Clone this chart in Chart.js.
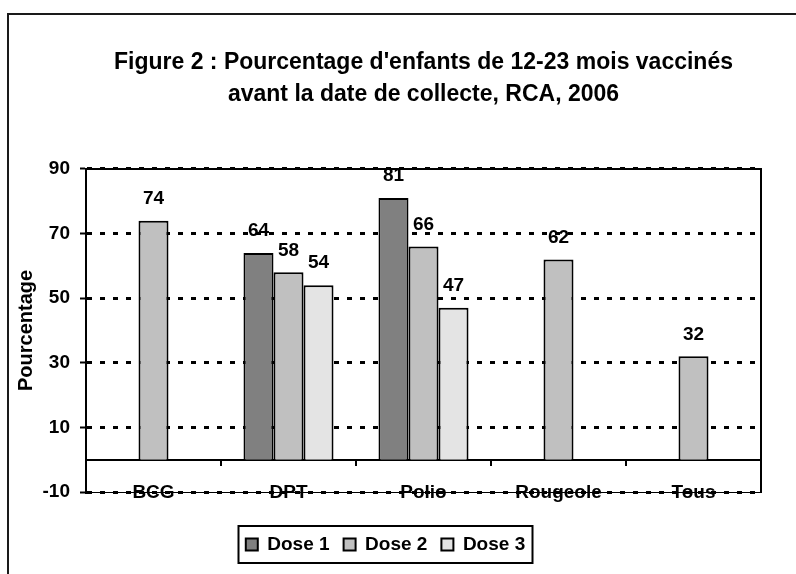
<!DOCTYPE html>
<html lang="fr">
<head>
    <meta charset="UTF-8">
    <title>Figure 2 : Pourcentage d'enfants vaccinés</title>
    <script src="https://cdn.jsdelivr.net/npm/chart.js"></script>
    <style>
        html, body {
            margin: 0;
            padding: 0;
            background: #fff;
            overflow: hidden;
        }
        #chart-container {
            width: 796px;
            height: 574px;
        }
    </style>
</head>
<body>
    <div id="chart-container">
        <canvas id="vaccChart" width="796" height="574"></canvas>
    </div>
    <script>
        const categories = ['BCG', 'DPT', 'Polio', 'Rougeole', 'Tous'];
        const dose1 = [null, 64, 81, null, null];
        const dose2 = [74, 58, 66, 62, 32];
        const dose3 = [null, 54, 47, null, null];
        const yTicks = [-10, 10, 30, 50, 70, 90];
        const seriesNames = ['Dose 1', 'Dose 2', 'Dose 3'];
        const seriesColors = ['#808080', '#c0c0c0', '#e4e4e4'];

        const FONT = "'Liberation Sans', Arial, sans-serif";

        // outer frame, plot frame, zero line and its small category ticks
        const framePlugin = {
            id: 'frame',
            beforeDraw(chart) {
                const ctx = chart.ctx;
                ctx.save();
                ctx.fillStyle = '#fff';
                ctx.fillRect(0, 0, chart.width, chart.height);
                ctx.strokeStyle = '#1a1a1a';
                ctx.lineWidth = 2;
                ctx.beginPath();
                ctx.moveTo(8, chart.height);
                ctx.lineTo(8, 14);
                ctx.lineTo(chart.width, 14);
                ctx.stroke();
                ctx.restore();
            },
            beforeDatasetsDraw(chart) {
                const {ctx, chartArea: a, scales: {x, y}} = chart;
                ctx.save();
                ctx.strokeStyle = '#000';
                ctx.lineWidth = 2;
                ctx.beginPath();
                ctx.moveTo(a.left, a.top);
                ctx.lineTo(a.right, a.top);
                ctx.lineTo(a.right, a.bottom);
                ctx.stroke();

                const y0 = Math.round(y.getPixelForValue(0));
                ctx.beginPath();
                ctx.moveTo(a.left, y0);
                ctx.lineTo(a.right, y0);
                for (let i = 1; i < categories.length; i++) {
                    const xb = Math.round((x.getPixelForValue(i - 1) + x.getPixelForValue(i)) / 2);
                    ctx.moveTo(xb, y0);
                    ctx.lineTo(xb, y0 + 6);
                }
                ctx.stroke();
                ctx.restore();
            }
        };

        // values above bars
        const valueLabels = {
            id: 'valueLabels',
            afterDatasetsDraw(chart) {
                const ctx = chart.ctx;
                ctx.save();
                ctx.font = 'bold 19px ' + FONT;
                ctx.fillStyle = '#000';
                ctx.textAlign = 'center';
                ctx.textBaseline = 'middle';
                chart.data.datasets.forEach((ds, di) => {
                    const meta = chart.getDatasetMeta(di);
                    meta.data.forEach((bar, i) => {
                        const v = ds.data[i];
                        if (v === null) return;
                        ctx.fillText(v, bar.x, bar.y - 22);
                    });
                });
                ctx.restore();
            }
        };

        // box round the legend items
        const legendBox = {
            id: 'legendBox',
            afterDraw(chart) {
                const boxes = chart.legend.legendHitBoxes;
                if (!boxes || !boxes.length) return;
                const left = boxes[0].left - 8;
                const last = boxes[boxes.length - 1];
                const right = last.left + last.width + 7;
                const top = boxes[0].top - 9;
                const bottom = boxes[0].top + boxes[0].height + 9;
                const ctx = chart.ctx;
                ctx.save();
                ctx.strokeStyle = '#000';
                ctx.lineWidth = 2;
                ctx.strokeRect(Math.round(left) + 0.5, Math.round(top), Math.round(right - left), Math.round(bottom - top));
                ctx.restore();
            }
        };

        const ctx = document.getElementById('vaccChart').getContext('2d');
        new Chart(ctx, {
            type: 'bar',
            data: {
                labels: categories,
                datasets: [dose1, dose2, dose3].map((d, i) => ({
                    label: seriesNames[i],
                    data: d,
                    backgroundColor: seriesColors[i],
                    borderColor: '#000',
                    borderWidth: 2,
                    categoryPercentage: 0.667,
                    barPercentage: 1.0
                }))
            },
            options: {
                responsive: false,
                animation: false,
                layout: {
                    padding: { left: 10, right: 35, top: 10, bottom: 10 }
                },
                scales: {
                    x: {
                        grid: { display: false, drawTicks: false },
                        border: { display: true, color: '#000', width: 1 },
                        ticks: {
                            color: '#000',
                            mirror: true,
                            padding: -12,
                            font: { family: FONT, size: 19, weight: 'bold' }
                        },
                        afterFit(scale) {
                            scale.height = 29;
                        }
                    },
                    y: {
                        min: -10,
                        max: 90,
                        afterBuildTicks(scale) {
                            scale.ticks = yTicks.map(v => ({ value: v }));
                        },
                        afterFit(scale) {
                            scale.width = 76;
                        },
                        grid: {
                            color: '#000',
                            lineWidth: 3,
                            tickLength: 6,
                            tickWidth: 2,
                            tickColor: '#000'
                        },
                        border: { display: true, color: '#000', width: 2, dash: [5, 8] },
                        ticks: {
                            color: '#000',
                            padding: 10,
                            font: { family: FONT, size: 19, weight: 'bold' }
                        },
                        title: {
                            display: true,
                            text: 'Pourcentage',
                            color: '#000',
                            padding: { top: 4, bottom: 0 },
                            font: { family: FONT, size: 20, weight: 'bold' }
                        }
                    }
                },
                plugins: {
                    title: {
                        display: true,
                        fullSize: false,
                        text: ["Figure 2 : Pourcentage d'enfants de 12-23 mois vaccinés",
                               'avant la date de collecte, RCA, 2006'],
                        color: '#000',
                        font: { family: FONT, size: 23, weight: 'bold', lineHeight: 1.39 },
                        padding: { top: 37, bottom: 58 }
                    },
                    legend: {
                        position: 'bottom',
                        labels: {
                            color: '#000',
                            boxWidth: 12,
                            boxHeight: 12,
                            padding: 14,
                            font: { family: FONT, size: 19, weight: 'bold' }
                        }
                    },
                    tooltip: { enabled: false }
                }
            },
            plugins: [framePlugin, valueLabels, legendBox]
        });
    </script>
</body>
</html>
